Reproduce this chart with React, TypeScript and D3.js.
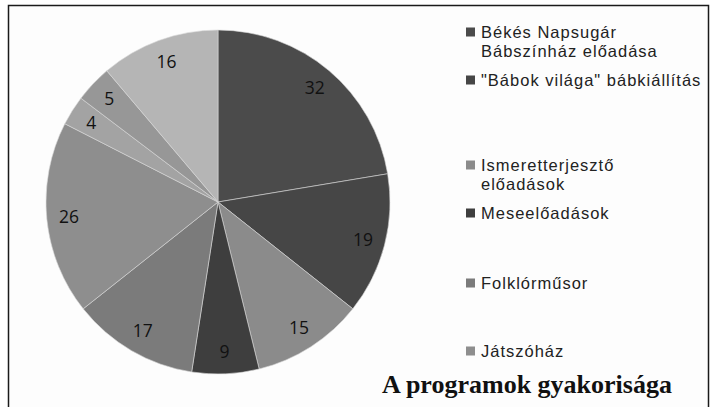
import React, { useEffect, useRef } from 'react'
import * as d3 from 'd3'

// slice values, clockwise from 12 o'clock
const values = [32, 19, 15, 9, 17, 26, 4, 5, 16]
const sliceColors = ['#4b4b4b', '#464646', '#8b8b8b', '#3e3e3e', '#7b7b7b', '#8e8e8e', '#a3a3a3', '#979797', '#b5b5b5']
// legend only shows the first six categories
const legendLabels = [
  ['Békés Napsugár', 'Bábszínház előadása'],
  ['"Bábok világa" bábkiállítás'],
  ['Ismeretterjesztő', 'előadások'],
  ['Meseelőadások'],
  ['Folklórműsor'],
  ['Játszóház'],
]
const title = 'A programok gyakorisága'

const W = 712, H = 407
const CX = 218, CY = 202, R = 172
const LEG_X = 466
const LEG_Y = [32, 80, 165, 213, 283, 351]
const LINE_H = 19.5

export default function App() {
  const ref = useRef<SVGSVGElement>(null)

  useEffect(() => {
    const svg = d3.select(ref.current)
    svg.selectAll('*').remove()

    svg.append('rect')
      .attr('x', 0).attr('y', 0).attr('width', W).attr('height', H)
      .attr('fill', '#ffffff')
    svg.append('rect')
      .attr('x', 8.5).attr('y', 5.5).attr('width', 700).attr('height', H + 20)
      .attr('fill', '#fdfdfd')
      .attr('stroke', '#1a1a1a').attr('stroke-width', 1.5)

    const pie = d3.pie<number>().sort(null).value(d => d)
    const arcs = pie(values)
    const arc = d3.arc<d3.PieArcDatum<number>>().innerRadius(0).outerRadius(R)
    const labelArc = d3.arc<d3.PieArcDatum<number>>().innerRadius(R * 0.87).outerRadius(R * 0.87)

    const g = svg.append('g').attr('transform', `translate(${CX},${CY})`)
    g.selectAll('path')
      .data(arcs)
      .enter()
      .append('path')
      .attr('d', arc)
      .attr('fill', (d, i) => sliceColors[i])
      .attr('stroke', '#d8d8d8')
      .attr('stroke-width', 0.6)

    g.selectAll('text')
      .data(arcs)
      .enter()
      .append('text')
      .attr('transform', d => `translate(${labelArc.centroid(d)})`)
      .attr('text-anchor', 'middle')
      .attr('dy', '0.35em')
      .attr('font-family', '"Open Sans", sans-serif')
      .attr('font-size', 17.5)
      .attr('fill', '#111')
      .text(d => d.data)

    const leg = svg.append('g')
    legendLabels.forEach((lines, i) => {
      const y = LEG_Y[i]
      leg.append('rect')
        .attr('x', LEG_X).attr('y', y - 4.5).attr('width', 9).attr('height', 9)
        .attr('fill', sliceColors[i])
      lines.forEach((t, j) => {
        leg.append('text')
          .attr('x', LEG_X + 15)
          .attr('y', y + j * LINE_H)
          .attr('dy', '0.35em')
          .attr('font-family', '"Liberation Sans", Arial, sans-serif')
          .attr('font-size', 16.5)
          .attr('letter-spacing', 1)
          .attr('fill', '#222')
          .text(t)
      })
    })

    svg.append('text')
      .attr('x', 527)
      .attr('y', 393)
      .attr('text-anchor', 'middle')
      .attr('font-family', '"Liberation Serif", serif')
      .attr('font-weight', 'bold')
      .attr('font-size', 26)
      .attr('fill', '#111')
      .text(title)
  }, [])

  return (
    <svg ref={ref} width={W} height={H}
      style={{ position: 'absolute', left: 0, top: 0, display: 'block' }} />
  )
}
